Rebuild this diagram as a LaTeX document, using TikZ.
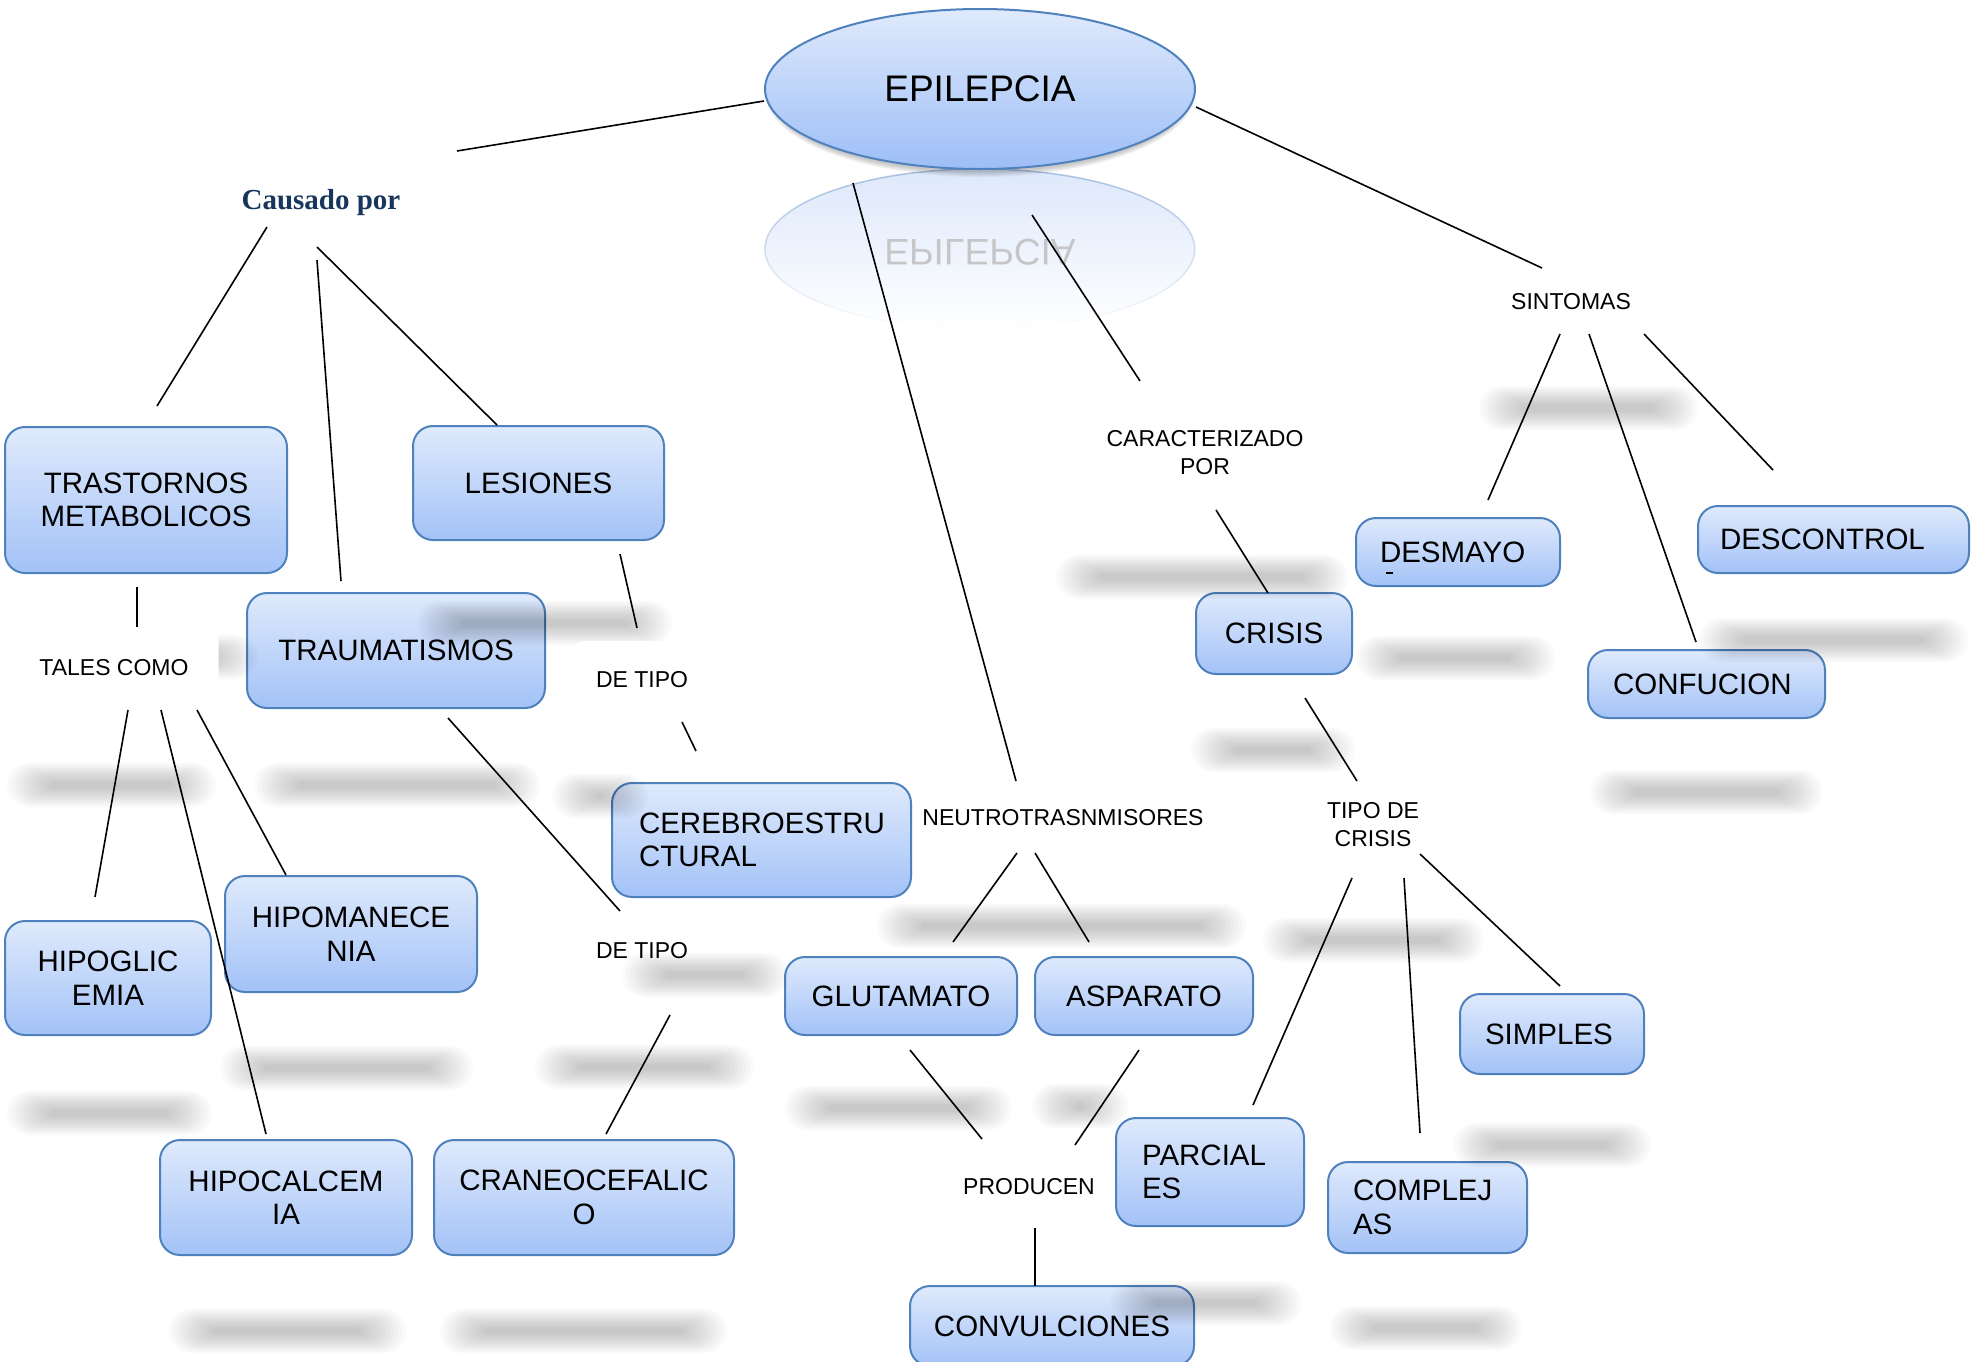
\documentclass[tikz,border=0pt]{standalone}
\usepackage{fontspec}
\setmainfont{Liberation Sans}
\newfontfamily\serifbold{Liberation Serif}
\usetikzlibrary{fadings,shapes.geometric}

\definecolor{boxtop}{RGB}{223,234,252}
\definecolor{boxbot}{RGB}{163,194,247}
\definecolor{boxline}{RGB}{79,129,189}
\definecolor{ellbot}{RGB}{157,190,246}
\definecolor{refl}{RGB}{212,226,250}
\definecolor{navy}{RGB}{23,54,93}

\tikzfading[name=reflfade, top color=transparent!20, bottom color=transparent!100]

\newcommand\softbar[3]{%
  \foreach \i [evaluate=\i as \r using 22-1.7*\i, evaluate=\i as \h using 22-1.7*\i] in {0,...,11}{%
    \fill[black, opacity=0.018, rounded corners=\r pt]
      ({#1-8+4*\i},{#3-\h}) rectangle ({#2+8-4*\i},{#3+\h});
  }}
\newcommand\link[3]{\coordinate (#1-s) at (#2); \coordinate (#1-e) at (#3);
  \draw[conn] (#1-s) -- (#1-e);}

\tikzset{
  box/.style={draw=boxline, line width=2pt, rounded corners=20pt,
    top color=boxtop, bottom color=boxbot,
    font=\fontsize{29.5}{33.5}\selectfont, inner sep=0pt, align=center},
  lboxl/.style={box, align=left},
  lbl/.style={font=\fontsize{23}{28}\selectfont, align=center, inner sep=2pt},
  lblw/.style={lbl, fill=white, rounded corners=14pt, inner xsep=24pt, minimum height=78pt},
  conn/.style={line width=1.6pt, black},
}

\begin{document}
\begin{tikzpicture}[x=1pt, y=-1pt]
\useasboundingbox (0,0) rectangle (1979,1361);
\clip (0,0) rectangle (1979,1361);

% reflection of the main ellipse
\path[draw=boxline!60, line width=1.5pt, fill=refl, path fading=reflfade]
  (980,249) ellipse (215 and 80);
\node[text=gray!45, font=\fontsize{37}{40}\selectfont] (reflt) at (980,252)
  {\scalebox{1}[-1]{EPILEPCIA}};

% shadow of the main ellipse
\foreach \i in {0,...,5}{
  \fill[black, opacity=0.04] (980,95) ellipse ({214-\i} and {82-\i});
}
\node[ellipse, draw=boxline, line width=2pt, top color=boxtop, bottom color=ellbot,
  minimum width=430pt, minimum height=160pt, inner sep=0pt,
  font=\fontsize{37}{40}\selectfont] (epi) at (980,89) {EPILEPCIA};

% boxes
\node[box, minimum width=282pt, minimum height=146pt] (tras) at (146,500) {TRASTORNOS\\METABOLICOS};
\node[box, minimum width=251pt, minimum height=114pt] (les) at (538.5,483) {LESIONES};
\node[box, minimum width=298pt, minimum height=115pt] (trau) at (396,650.5) {TRAUMATISMOS};
\node[lboxl, inner xsep=27pt, text width=245pt, minimum height=114pt] (cere) at (761.5,840) {CEREBROESTRU\\CTURAL};
\node[box, minimum width=206pt, minimum height=114pt] (hipogl) at (108,978) {HIPOGLIC\\EMIA};
\node[box, minimum width=252pt, minimum height=116pt] (hipoman) at (351,934) {HIPOMANECE\\NIA};
\node[box, minimum width=252pt, minimum height=115pt] (hipocal) at (286,1197.5) {HIPOCALCEM\\IA};
\node[box, minimum width=300pt, minimum height=115pt] (crane) at (584,1197.5) {CRANEOCEFALIC\\O};
\node[box, minimum width=232pt, minimum height=78pt] (glu) at (901,996) {GLUTAMATO};
\node[box, minimum width=218pt, minimum height=78pt] (asp) at (1144,996) {ASPARATO};
\node[box, minimum width=284pt, minimum height=80pt] (conv) at (1052,1326) {CONVULCIONES};
\node[lboxl, inner xsep=26pt, text width=136pt, minimum height=108pt] (parc) at (1210,1172) {PARCIAL\\ES};
\node[lboxl, inner xsep=25pt, text width=149pt, minimum height=91pt] (compl) at (1427.5,1207.5) {COMPLEJ\\AS};
\node[lboxl, inner xsep=25pt, text width=134pt, minimum height=80pt] (simp) at (1552,1034) {SIMPLES};
\node[box, minimum width=156pt, minimum height=81pt] (crisis) at (1274,633.5) {CRISIS};
\node[lboxl, inner xsep=24pt, text width=156pt, minimum height=68pt] (desm) at (1458,552) {DESMAYO};
\node[lboxl, inner xsep=22pt, text width=227pt, minimum height=67pt] (desc) at (1833.5,539.5) {DESCONTROL};
\node[lboxl, inner xsep=25pt, text width=187pt, minimum height=68pt] (conf) at (1706.5,684) {CONFUCION};
\draw[line width=2pt] (1386,573) -- (1393,573);

% soft shadows
\softbar{425}{664}{623}
\softbar{150}{250}{657}
\softbar{1487}{1690}{408}
\softbar{1064}{1340}{577}
\softbar{1364}{1547}{658}
\softbar{1199}{1347}{750}
\softbar{1598}{1815}{792}
\softbar{1707}{1960}{640}
\softbar{15}{208}{785}
\softbar{262}{532}{785}
\softbar{560}{640}{796}
\softbar{885}{1238}{926}
\softbar{1271}{1476}{940}
\softbar{630}{780}{975}
\softbar{228}{465}{1068}
\softbar{543}{746}{1067}
\softbar{15}{204}{1113}
\softbar{793}{1004}{1108}
\softbar{1040}{1120}{1106}
\softbar{1461}{1643}{1145}
\softbar{177}{398}{1331}
\softbar{448}{719}{1331}
\softbar{1119}{1293}{1303}
\softbar{1338}{1514}{1328}

% labels
\node[font=\serifbold\bfseries\fontsize{29}{34}\selectfont, text=navy] (causa) at (321,203) {Causado por};
\node[lblw, inner xsep=30pt, minimum height=80pt] (tales) at (114,668) {TALES COMO};
\node[lblw] (detipo1) at (642,680) {DE TIPO};
\node[lbl] (detipo2) at (642,951) {DE TIPO};
\node[lbl] (neuro) at (1063,818) {NEUTROTRASNMISORES};
\node[lbl] (prod) at (1029,1187) {PRODUCEN};
\node[lbl] (carac) at (1205,453) {CARACTERIZADO\\POR};
\node[lbl] (tipo) at (1373,825) {TIPO DE\\CRISIS};
\node[lbl] (sint) at (1571,302) {SINTOMAS};

% connectors
\link{l1}{764,101}{457,151}
\link{l2}{267,227}{157,406}
\link{l3}{317,260}{341,581}
\link{l4}{317,247}{497,425}
\link{l5}{137,587}{137,627}
\link{l6}{128,710}{95,897}
\link{l7}{161,710}{266,1134}
\link{l8}{197,710}{286,875}
\link{l9}{620,554}{637,628}
\link{l10}{682,722}{696,751}
\link{l11}{448,718}{620,911}
\link{l12}{670,1015}{606,1134}
\link{l13}{853,183}{1016,781}
\link{l14}{1017,853}{953,942}
\link{l15}{1035,853}{1089,942}
\link{l16}{910,1050}{982,1139}
\link{l17}{1139,1050}{1075,1145}
\link{l18}{1035,1228}{1035,1286}
\link{l19}{1032,215}{1140,381}
\link{l20}{1216,510}{1268,593}
\link{l21}{1305,698}{1357,781}
\link{l22}{1352,878}{1253,1105}
\link{l23}{1404,878}{1420,1133}
\link{l24}{1420,854}{1560,986}
\link{l25}{1196,107}{1542,268}
\link{l26}{1560,334}{1488,500}
\link{l27}{1589,334}{1696,642}
\link{l28}{1644,334}{1773,470}
\end{tikzpicture}
\end{document}
